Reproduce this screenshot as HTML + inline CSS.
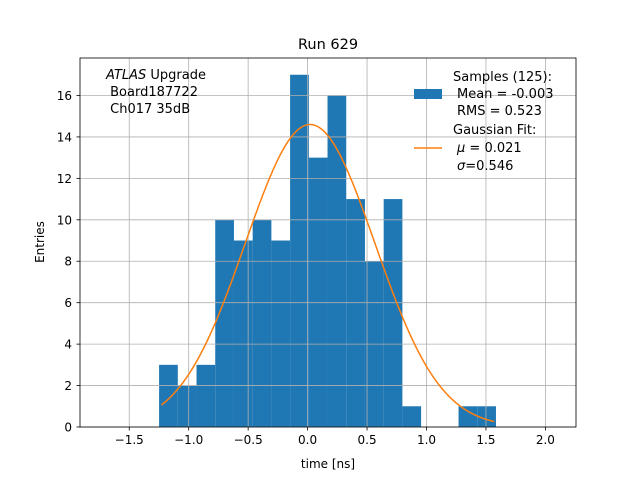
<!DOCTYPE html>
<html><head><meta charset="utf-8"><style>body{margin:0;background:#fff}svg{display:block;font-family:"DejaVu Sans","Liberation Sans",sans-serif}</style></head>
<body>
<svg id="c" width="640" height="480">
<rect width="640" height="480" fill="#fff"/>
<text x="328" y="49" font-size="14.5" text-anchor="middle">Run 629</text>
<g id="bars"></g><g id="grid"></g><g id="curve"></g><g id="ticks"></g>
<rect x="80" y="58" width="496" height="369" fill="none" stroke="#000" stroke-width="0.8"/>
<text x="328" y="468" font-size="12" text-anchor="middle">time [ns]</text>
<text x="44" y="242" font-size="12" text-anchor="middle" transform="rotate(-90 44 242)">Entries</text>
<g font-size="13">
<text x="106" y="79"><tspan font-style="italic">ATLAS</tspan> Upgrade</text>
<text x="106" y="96">&#160;Board187722</text>
<text x="106" y="113">&#160;Ch017 35dB</text>
</g>
<g font-size="13">
<rect x="414" y="89" width="28" height="10" fill="#1f77b4"/>
<text x="453" y="81">Samples (125):</text>
<text x="457" y="98">Mean = -0.003</text>
<text x="457" y="115">RMS = 0.523</text>
<line x1="414" y1="148" x2="442" y2="148" stroke="#ff7f0e" stroke-width="1.5"/>
<text x="453" y="134">Gaussian Fit:</text>
<text x="457" y="152"><tspan font-style="italic">μ</tspan> = 0.021</text>
<text x="457" y="170"><tspan font-style="italic">σ</tspan>=0.546</text>
</g>
</svg>
<script>
const counts=[3,2,3,10,9,10,9,17,13,16,11,8,11,1,0,0,1,1];
const binStart=-1.249, binWidth=0.1574;
const xTicks=[-1.5,-1.0,-0.5,0.0,0.5,1.0,1.5,2.0];
const yTicks=[0,2,4,6,8,10,12,14,16];
const fitMu=0.021, fitSigma=0.546, fitAmp=14.6, fitRange=[-1.23,1.57];
const X=v=>307.6+v*118.9, Y=v=>427-v*20.72;
const NS="http://www.w3.org/2000/svg";
function mk(t,a,p){const e=document.createElementNS(NS,t);for(const k in a)e.setAttribute(k,a[k]);document.getElementById(p).appendChild(e);return e;}
counts.forEach((c,i)=>{if(!c)return;const x0=X(binStart+i*binWidth),x1=X(binStart+(i+1)*binWidth);
const r=mk('rect',{x:x0,y:Y(c),width:x1-x0,height:Y(0)-Y(c),fill:'#1f77b4'},'bars');

});
xTicks.forEach(t=>{const x=X(t);
const g=mk('line',{x1:x,x2:x,y1:58,y2:427,stroke:'#b0b0b0','stroke-width':0.8},'grid');


mk('line',{x1:x,x2:x,y1:427,y2:430.5,stroke:'#000','stroke-width':0.8},'ticks');
const l=mk('text',{x:x,y:444,'font-size':12,'text-anchor':'middle'},'ticks');l.textContent=(t<0?'−':'')+Math.abs(t).toFixed(1);

});
yTicks.forEach(t=>{const y=Y(t);
const g=mk('line',{x1:80,x2:576,y1:y,y2:y,stroke:'#b0b0b0','stroke-width':0.8},'grid');


mk('line',{x1:76.5,x2:80,y1:y,y2:y,stroke:'#000','stroke-width':0.8},'ticks');
const l=mk('text',{x:72,y:y+4.5,'font-size':12,'text-anchor':'end'},'ticks');l.textContent=t;

});
let d='';for(let i=0;i<=200;i++){const v=fitRange[0]+(fitRange[1]-fitRange[0])*i/200;
const f=fitAmp*Math.exp(-((v-fitMu)**2)/(2*fitSigma*fitSigma));d+=(i?'L':'M')+X(v).toFixed(2)+','+Y(f).toFixed(2);}
const p=mk('path',{d:d,fill:'none',stroke:'#ff7f0e','stroke-width':1.5},'curve');


</script>
</body></html>
